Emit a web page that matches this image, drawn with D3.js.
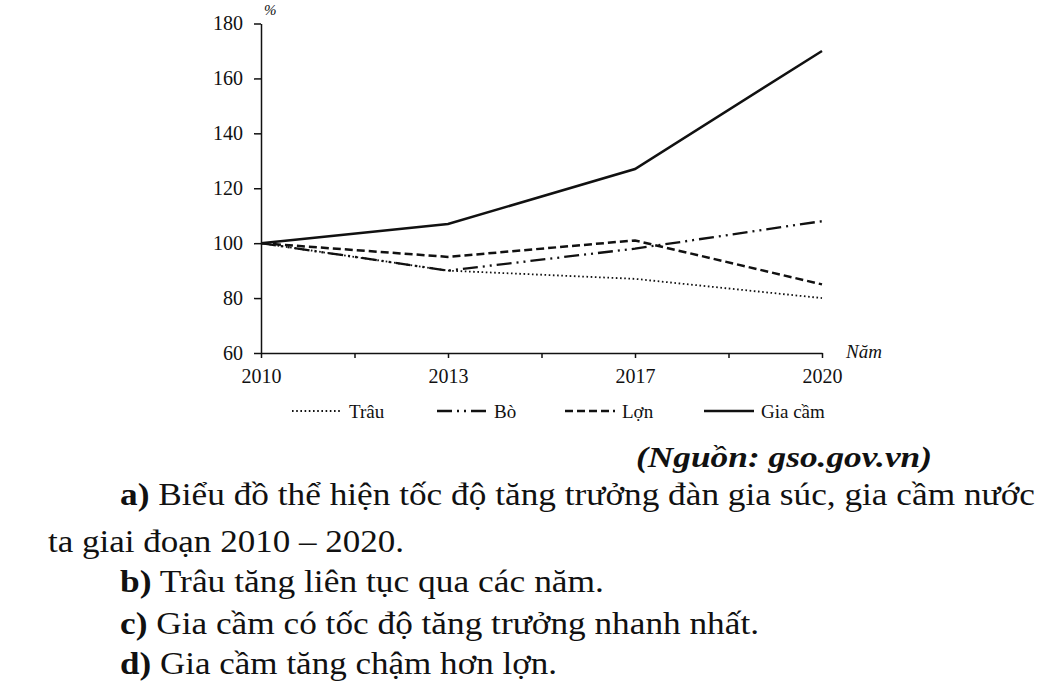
<!DOCTYPE html>
<html>
<head>
<meta charset="utf-8">
<script src="https://cdn.jsdelivr.net/npm/d3@7"></script>
</head>
<body style="margin:0;background:#fff">
<div id="chart"></div>
<script>
let w = 1042
let h = 691
let serif = "'Liberation Serif', Tinos, 'Times New Roman', Times, 'DejaVu Serif', serif"

// data
let years = ["2010", "2013", "2017", "2020"]
let trau = [100, 90, 87, 80]
let bo = [100, 90, 98, 108]
let lon = [100, 95, 101, 85]
let giaCam = [100, 107, 127, 170]
let yTicks = [60, 80, 100, 120, 140, 160, 180]

let seriesNames = ["Trâu", "Bò", "Lợn", "Gia cầm"]
let seriesValues = [trau, bo, lon, giaCam]
let seriesDash = ["1.6,2.6", "15,5,2,5,2,5", "8,4", null]
let seriesWidth = [1.8, 2.3, 2.5, 2.5]

let questions = [
	{ label: "a)", text: " Biểu đồ thể hiện tốc độ tăng trưởng đàn gia súc, gia cầm nước", x: 120, len: 915 },
	{ label: "", text: "ta giai đoạn 2010 – 2020.", x: 48, len: 356 },
	{ label: "b)", text: " Trâu tăng liên tục qua các năm.", x: 120, len: 484 },
	{ label: "c)", text: " Gia cầm có tốc độ tăng trưởng nhanh nhất.", x: 120, len: 639 },
	{ label: "d)", text: " Gia cầm tăng chậm hơn lợn.", x: 120, len: 437 }
]

let svg = d3.select("#chart")
	.append("svg")
	.attr("width", w)
	.attr("height", h)
	.style("font-family", serif)

let x = d3.scaleLinear()
	.domain([0, years.length - 1])
	.range([261, 822])

let y = d3.scaleLinear()
	.domain([60, 180])
	.range([353, 23.5])

// x axis: labels only at the years, extra ticks halfway between them
let xAxis = d3.axisBottom(x)
	.tickValues(d3.range(0, years.length - 1 + 0.01, 0.5))
	.tickSize(5)
	.tickSizeOuter(0)
	.tickFormat(d => Number.isInteger(d) ? years[d] : "")

let styleAxis = g => {
	g.attr("font-family", null).attr("font-size", null)
	g.selectAll("path, line").attr("stroke", "#111").attr("stroke-width", 1.5)
	g.selectAll("text")
		.style("font-family", serif)
		.style("font-size", "20px")
		.attr("fill", "#111")
}

svg.append("g")
	.attr("transform", "translate(0," + y(60) + ")")
	.call(xAxis)
	.call(styleAxis)
	.call(g => g.selectAll("text").attr("y", 16).attr("dy", "0.71em"))

let yAxis = d3.axisLeft(y)
	.tickValues(yTicks)
	.tickSize(7)
	.tickSizeOuter(0)

svg.append("g")
	.attr("transform", "translate(" + x(0) + ",0)")
	.call(yAxis)
	.call(styleAxis)
	.call(g => g.selectAll("text").attr("x", -18))

// unit label at the top of the y axis
svg.append("text")
	.attr("x", x(0) + 3)
	.attr("y", 15)
	.style("font-size", "15px")
	.style("font-style", "italic")
	.attr("fill", "#111")
	.text("%")

svg.append("text")
	.attr("x", 846)
	.attr("y", 358)
	.style("font-size", "19px")
	.style("font-style", "italic")
	.attr("fill", "#111")
	.text("Năm")

let line = d3.line()
	.x((d, i) => x(i))
	.y(d => y(d))

seriesValues.forEach((vals, k) => {
	svg.append("path")
		.datum(vals)
		.attr("d", line)
		.attr("fill", "none")
		.attr("stroke", "#111")
		.attr("stroke-width", seriesWidth[k])
		.attr("stroke-dasharray", seriesDash[k])
})

// legend
let legendX = [292, 437, 565, 704]
let legendY = 411
let legend = svg.append("g")
seriesNames.forEach((name, k) => {
	legend.append("line")
		.attr("x1", legendX[k])
		.attr("x2", legendX[k] + 50)
		.attr("y1", legendY)
		.attr("y2", legendY)
		.attr("stroke", "#111")
		.attr("stroke-width", seriesWidth[k])
		.attr("stroke-dasharray", seriesDash[k])
	legend.append("text")
		.attr("x", legendX[k] + 57)
		.attr("y", legendY + 7)
		.style("font-size", "19px")
		.attr("fill", "#111")
		.text(name)
})

// source
svg.append("text")
	.attr("x", 636)
	.attr("y", 467)
	.attr("textLength", 296)
	.attr("lengthAdjust", "spacingAndGlyphs")
	.style("font-size", "30px")
	.style("font-weight", "bold")
	.style("font-style", "italic")
	.attr("fill", "#111")
	.text("(Nguồn: gso.gov.vn)")

let rowY = [505, 552, 592, 634, 674]
questions.forEach((q, i) => {
	let t = svg.append("text")
		.attr("x", q.x)
		.attr("y", rowY[i])
		.attr("textLength", q.len)
		.attr("lengthAdjust", "spacingAndGlyphs")
		.style("font-size", "31px")
		.attr("fill", "#111")
	t.append("tspan").style("font-weight", "bold").text(q.label)
	t.append("tspan").text(q.text)
})
</script>
</body>
</html>
